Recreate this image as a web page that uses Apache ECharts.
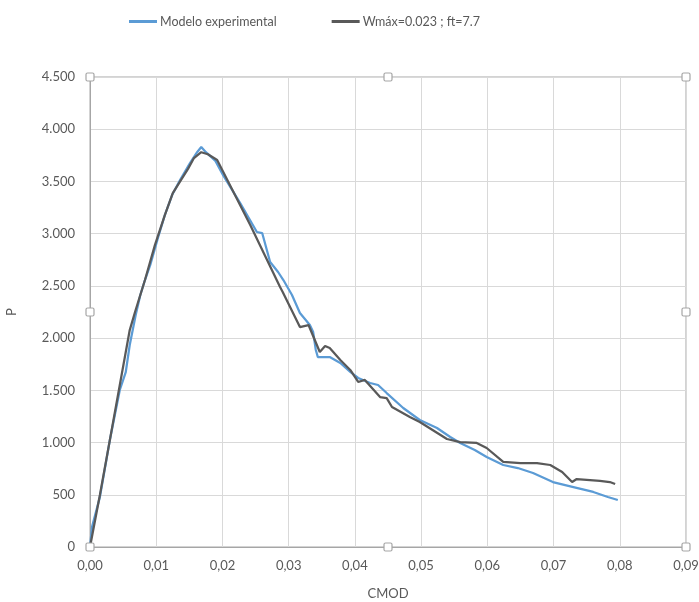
<!DOCTYPE html>
<html>
<head>
<meta charset="utf-8">
<script src="https://cdn.jsdelivr.net/npm/echarts@6/dist/echarts.min.js"></script>
<style>
  html, body { margin: 0; padding: 0; background: #fff; }
  #chart { width: 699px; height: 602px; }
</style>
</head>
<body>
<div id="chart"></div>
<script>
// curva P-CMOD, datos
const seriesNames = ['Modelo experimental', 'Wmáx=0.023 ; ft=7.7'];

const expCmod = [0, 0.0003, 0.0015, 0.003, 0.0045, 0.0054, 0.006, 0.0069, 0.0076, 0.0083, 0.0091,
  0.0103, 0.0113, 0.0124, 0.0136, 0.0151, 0.0162, 0.0168, 0.0175, 0.0189, 0.0201, 0.0227,
  0.0252, 0.026, 0.0272, 0.0284, 0.0292, 0.0305, 0.0317, 0.0332, 0.0337, 0.0341, 0.0344,
  0.0362, 0.0378, 0.0393, 0.0405, 0.0423, 0.0435, 0.0448, 0.0473, 0.0498, 0.0524, 0.0544,
  0.0559, 0.0581, 0.0599, 0.0624, 0.0646, 0.0669, 0.0699, 0.073, 0.076, 0.0782, 0.0797];
const expP = [0, 190, 480, 1024, 1503, 1675, 1934, 2221, 2413, 2556, 2700,
  2968, 3178, 3370, 3514, 3676, 3782, 3830, 3780, 3700, 3560, 3290,
  3016, 3006, 2728, 2633, 2556, 2413, 2240, 2125, 2058, 1886, 1819,
  1819, 1762, 1676, 1618, 1570, 1551, 1474, 1331, 1216, 1139, 1053,
  996, 929, 862, 785, 756, 708, 622, 574, 527, 479, 450];

const modCmod = [0, 0.0015, 0.003, 0.0045, 0.006, 0.0068, 0.0083, 0.0098, 0.0113, 0.0125, 0.0138,
  0.0148, 0.0157, 0.0168, 0.0178, 0.0192, 0.0242, 0.0287, 0.0291, 0.0317, 0.033, 0.0347, 0.0355,
  0.0362, 0.0378, 0.0393, 0.0405, 0.0415, 0.0438, 0.0448, 0.0456, 0.0483, 0.0498, 0.0539,
  0.0559, 0.0584, 0.0599, 0.0624, 0.065, 0.0675, 0.0695, 0.0713, 0.0728, 0.0735, 0.0755,
  0.077, 0.0785, 0.0793];
const modP = [0, 500, 1024, 1551, 2077, 2250, 2556, 2890, 3178, 3389, 3520,
  3620, 3724, 3780, 3760, 3705, 3083, 2489, 2441, 2106, 2125, 1867, 1924,
  1905, 1790, 1695, 1580, 1600, 1436, 1426, 1340, 1245, 1197, 1034,
  1005, 996, 948, 814, 804, 804, 785, 718, 622, 651, 641,
  632, 622, 603];

const xMin = 0, xMax = 0.09, xStep = 0.01;
const yMin = 0, yMax = 4500, yStep = 500;

function pairs(xs, ys) {
  return xs.map((x, i) => [x, ys[i]]);
}

const chart = echarts.init(document.getElementById('chart'));
const font = 'Lato, "Open Sans", sans-serif';
const textColor = '#595959';

const option = {
  animation: false,
  color: ['#5B9BD5', '#595959'],
  legend: {
    top: 10,
    left: 124,
    itemWidth: 28,
    itemHeight: 3,
    itemGap: 55,
    icon: 'rect',
    textStyle: { color: textColor, fontFamily: font, fontSize: 12.5, padding: [0, 0, 0, -2] },
    data: seriesNames
  },
  grid: {
    left: 90, right: 13, top: 77, bottom: 55,
    outerBoundsMode: 'none',
    show: true, borderColor: '#a6a6a6', borderWidth: 1
  },
  xAxis: {
    type: 'value',
    min: xMin, max: xMax, interval: xStep,
    name: 'CMOD',
    nameLocation: 'middle',
    nameGap: 40,
    nameTextStyle: { color: textColor, fontFamily: font, fontSize: 13 },
    axisLine: { show: true, lineStyle: { color: '#a6a6a6' } },
    axisTick: { show: false },
    axisLabel: {
      color: textColor, fontFamily: font, fontSize: 13, margin: 12,
      formatter: v => v.toFixed(2).replace('.', ',')
    },
    splitLine: { show: true, lineStyle: { color: '#d9d9d9' } }
  },
  yAxis: {
    type: 'value',
    min: yMin, max: yMax, interval: yStep,
    name: 'P',
    nameLocation: 'middle',
    nameGap: 72,
    nameTextStyle: { color: textColor, fontFamily: font, fontSize: 13 },
    axisLine: { show: true, lineStyle: { color: '#a6a6a6' } },
    axisTick: { show: false },
    axisLabel: {
      color: textColor, fontFamily: font, fontSize: 13, margin: 15,
      formatter: v => String(v).replace(/\B(?=(\d{3})+(?!\d))/g, '.')
    },
    splitLine: { show: true, lineStyle: { color: '#d9d9d9' } }
  },
  series: [
    {
      name: seriesNames[0], type: 'line', showSymbol: false, z: 2,
      lineStyle: { width: 2.25 },
      data: pairs(expCmod, expP)
    },
    {
      name: seriesNames[1], type: 'line', showSymbol: false, z: 3,
      lineStyle: { width: 2.25 },
      data: pairs(modCmod, modP)
    }
  ]
};
chart.setOption(option);

// asas de seleccion del area de trazado (esquinas y puntos medios)
const corners = [];
[xMin, (xMin + xMax) / 2, xMax].forEach(x => {
  [yMin, (yMin + yMax) / 2, yMax].forEach(y => {
    if (x === (xMin + xMax) / 2 && y === (yMin + yMax) / 2) return;
    corners.push(chart.convertToPixel({ gridIndex: 0 }, [x, y]));
  });
});
chart.setOption({
  graphic: corners.map(p => ({
    type: 'rect',
    shape: { x: p[0] - 4, y: p[1] - 4, width: 8, height: 8, r: 1.5 },
    style: { fill: '#fff', stroke: '#a6a6a6', lineWidth: 1.2 },
    z: 100
  }))
});
</script>
</body>
</html>
